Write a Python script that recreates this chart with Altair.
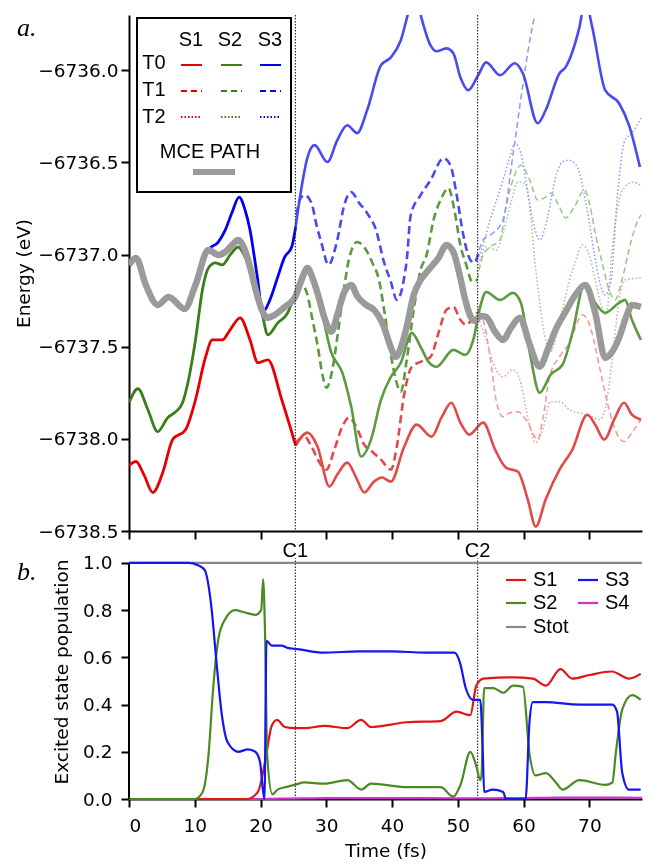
import altair as alt
import pandas as pd

# ---------------- constants ----------------
C1_T, C2_T = 25.3, 53.0
T_MAX = 78.0
E_MIN, E_MAX = -6738.5, -6735.7
P_MAX = 1.08
W = 513

# ---------------- panel a : trajectory T0 (solid) ----------------
t0_s1_t = [0.0, 1.06, 2.26, 3.62, 5.13, 6.64, 8.60, 10.11, 11.61, 12.67, 14.18, 15.38, 16.89, 18.40, 19.61,
           21.12, 23.23, 25.34, 27.15, 28.66, 30.47, 31.67, 33.18, 34.54, 35.75, 37.25, 38.46, 39.82, 41.78,
           43.74, 46.00, 47.51, 49.02, 50.38, 51.73, 53.85, 55.66, 57.32, 59.13, 60.63, 61.84, 63.35, 65.46,
           67.42, 69.68, 70.89, 72.25, 73.76, 75.26, 76.47, 77.83]
t0_s1_e = [-6738.145, -6738.123, -6738.194, -6738.291, -6738.183, -6738.004, -6737.950, -6737.788, -6737.560,
           -6737.463, -6737.463, -6737.408, -6737.343, -6737.463, -6737.587, -6737.571, -6737.788, -6738.036,
           -6737.966, -6738.042, -6738.259, -6738.194, -6738.129, -6738.210, -6738.291, -6738.232, -6738.210,
           -6738.232, -6738.048, -6737.923, -6737.988, -6737.885, -6737.804, -6737.912, -6737.977, -6737.912,
           -6738.058, -6738.156, -6738.178, -6738.329, -6738.476, -6738.329, -6738.167, -6738.058, -6737.869,
           -6737.923, -6738.004, -6737.896, -6737.804, -6737.869, -6737.896]

t0_s2_t = [0.0, 1.36, 2.87, 4.37, 5.88, 7.09, 8.14, 9.05, 10.11, 11.16, 12.07, 13.12, 14.18, 15.38, 16.59,
           17.65, 18.70, 20.21, 21.12, 22.62, 24.13, 25.34, 27.15, 28.66, 30.77, 32.43, 33.79, 35.29, 36.80,
           38.31, 39.82, 41.33, 42.99, 44.34, 45.55, 46.76, 49.32, 51.13, 52.34, 53.39, 54.30, 56.41, 58.37,
           59.58, 60.94, 62.44, 64.10, 65.91, 67.42, 69.23, 70.89, 72.40, 74.51, 75.41, 76.47, 77.83]
t0_s2_e = [-6737.804, -6737.728, -6737.842, -6737.961, -6737.885, -6737.853, -6737.804, -6737.679, -6737.463,
           -6737.192, -6737.073, -6737.045, -6737.056, -6737.002, -6736.959, -6737.013, -6737.121, -6737.316,
           -6737.436, -6737.371, -6737.316, -6737.200, -6737.067, -6737.208, -6737.533, -6737.641, -6737.826,
           -6738.096, -6738.004, -6737.788, -6737.663, -6737.587, -6737.425, -6737.501, -6737.582, -6737.609,
           -6737.517, -6737.544, -6737.463, -6737.284, -6737.203, -6737.246, -6737.208, -6737.262, -6737.533,
           -6737.750, -6737.652, -6737.598, -6737.425, -6737.165, -6737.262, -6737.316, -6737.262, -6737.246,
           -6737.354, -6737.463]

t0_s3_t = [0.0, 1.06, 2.56, 4.37, 6.03, 8.45, 10.11, 12.07, 13.57, 14.63, 15.69, 16.74, 17.65, 18.40, 19.46,
           20.36, 21.42, 22.62, 23.68, 24.74, 25.34, 26.24, 27.15, 28.21, 30.17, 31.67, 33.18, 34.69, 36.20,
           38.31, 39.82, 41.33, 42.53, 43.44, 44.34, 45.85, 46.76, 48.27, 49.32, 50.38, 51.58, 53.09, 54.30,
           56.41, 58.67, 59.88, 62.14, 63.35, 65.46, 66.36, 68.48, 69.38, 70.44, 72.40, 74.51, 76.02, 77.68]
t0_s3_e = [-6737.056, -6737.018, -6737.165, -6737.273, -6737.230, -6737.295, -6737.165, -6736.975, -6736.932,
           -6736.867, -6736.769, -6736.688, -6736.758, -6736.867, -6737.110, -6737.311, -6737.246, -6737.121,
           -6737.013, -6736.959, -6736.850, -6736.634, -6736.471, -6736.406, -6736.498, -6736.379, -6736.298,
           -6736.341, -6736.217, -6735.973, -6735.930, -6735.837, -6735.680, -6735.580, -6735.700, -6735.865,
           -6735.897, -6735.881, -6735.908, -6736.038, -6736.108, -6736.027, -6735.957, -6736.027, -6735.962,
           -6736.016, -6736.287, -6736.217, -6736.016, -6735.984, -6735.767, -6735.620, -6735.767, -6736.108,
           -6736.179, -6736.298, -6736.525]

# ---------------- trajectory T1 (dashed), spawned at C1 ----------------
t1_s1_t = [25.34, 26.70, 27.75, 28.96, 30.02, 31.22, 32.43, 33.48, 34.54, 35.75, 36.95, 38.31, 39.82, 40.72,
           41.78, 42.99, 44.34, 45.85, 47.06, 48.27, 49.32, 50.38, 51.28, 52.34, 53.09, 53.85, 54.90, 55.81,
           56.86, 57.92, 59.13, 60.63, 62.14, 62.90, 63.95, 65.46, 66.97, 68.93, 70.14, 70.89, 71.95, 73.00,
           73.91, 75.26, 76.47, 77.83]
t1_s1_e = [-6738.020, -6737.988, -6738.042, -6738.129, -6738.167, -6738.058, -6737.934, -6737.885, -6737.934,
           -6738.031, -6738.069, -6738.113, -6738.167, -6738.042, -6737.771, -6737.609, -6737.582, -6737.555,
           -6737.425, -6737.300, -6737.284, -6737.354, -6737.381, -6737.343, -6737.311, -6737.354, -6737.555,
           -6737.788, -6737.880, -6737.858, -6737.853, -6737.912, -6738.004, -6737.896, -6737.663, -6737.555,
           -6737.479, -6737.327, -6737.392, -6737.501, -6737.679, -6737.842, -6737.950, -6738.015, -6737.966,
           -6737.896]

t1_s2_t = [25.34, 26.24, 27.00, 27.90, 28.66, 29.41, 30.02, 30.92, 31.67, 32.43, 33.48, 34.69, 35.75, 36.95,
           38.01, 38.91, 39.82, 40.57, 41.33, 42.23, 43.29, 44.34, 45.25, 46.30, 47.51, 48.57, 49.47, 50.38,
           51.28, 52.19, 52.94, 53.85, 54.90, 56.41, 57.32, 58.37, 59.58, 60.94, 62.14, 63.35, 64.10, 65.46,
           66.36, 67.72, 69.23, 70.14, 70.89, 71.95, 73.00, 73.91, 74.96, 76.02, 76.92, 77.83]
t1_s2_e = [-6737.192, -6737.165, -6737.203, -6737.354, -6737.490, -6737.652, -6737.723, -6737.625, -6737.450,
           -6737.250, -6737.020, -6736.932, -6736.959, -6737.040, -6737.138, -6737.327, -6737.544, -6737.679,
           -6737.744, -6737.571, -6737.300, -6737.083, -6737.002, -6736.813, -6736.693, -6736.639, -6736.758,
           -6736.948, -6737.056, -6737.148, -6737.138, -6737.002, -6736.959, -6736.921, -6736.742, -6736.596,
           -6736.515, -6736.596, -6736.704, -6736.688, -6736.666, -6736.742, -6736.802, -6736.742, -6736.650,
           -6736.742, -6736.883, -6737.045, -6737.192, -6737.246, -6737.138, -6736.975, -6736.856, -6736.785]

t1_s3_t = [25.49, 25.94, 26.70, 27.75, 28.51, 29.26, 30.32, 31.67, 32.73, 33.79, 34.99, 36.20, 37.56, 38.76,
           39.82, 40.72, 41.78, 42.23, 42.84, 44.34, 45.85, 47.81, 48.87, 49.77, 50.83, 51.89, 52.49, 53.24,
           53.85, 55.35, 56.86, 58.37, 59.88, 60.94, 61.69, 62.59]
t1_s3_e = [-6736.785, -6736.704, -6736.677, -6736.720, -6736.840, -6736.937, -6737.056, -6736.921, -6736.731,
           -6736.661, -6736.720, -6736.775, -6736.867, -6737.040, -6737.148, -6737.246, -6737.138, -6737.029,
           -6736.785, -6736.677, -6736.596, -6736.477, -6736.515, -6736.666, -6736.894, -6737.029, -6737.045,
           -6736.975, -6736.921, -6736.883, -6736.813, -6736.461, -6736.081, -6735.837, -6735.702, -6735.540]

# ---------------- trajectory T2 (dotted), spawned at C2 ----------------
t2_s1_t = [52.94, 54.30, 55.81, 56.86, 58.37, 59.43, 60.18, 60.94, 61.84, 62.90, 64.10, 65.46, 66.97, 68.93,
           70.44, 71.49, 72.25, 73.00, 73.76, 74.51, 75.41, 77.83]
t2_s1_e = [-6737.327, -6737.463, -6737.625, -6737.663, -6737.625, -6737.679, -6737.804, -6737.934, -6738.020,
           -6737.950, -6737.798, -6737.798, -6737.842, -6737.864, -6737.880, -6737.896, -6737.858, -6737.706,
           -6737.479, -6737.246, -6737.138, -6737.127]

t2_s2_t = [52.94, 54.30, 55.81, 56.86, 58.07, 59.13, 60.18, 60.94, 61.69, 62.59, 63.35, 64.10, 65.01, 65.91,
           66.97, 67.87, 68.93, 69.98, 70.89, 71.80, 72.55, 73.45, 74.51, 75.41, 76.47, 77.83]
t2_s2_e = [-6737.094, -6736.959, -6736.975, -6736.883, -6736.720, -6736.607, -6736.612, -6736.742, -6737.029,
           -6737.300, -6737.463, -6737.528, -6737.436, -6737.300, -6737.138, -6737.040, -6736.948, -6737.002,
           -6737.138, -6737.273, -6737.327, -6736.975, -6736.704, -6736.634, -6736.607, -6736.623]

t2_s3_t = [52.94, 53.85, 54.90, 56.41, 57.92, 58.67, 59.58, 60.33, 61.39, 62.44, 63.65, 64.86, 65.91, 66.97,
           68.17, 69.38, 70.74, 71.49, 72.40, 73.30, 74.21, 75.41, 76.47, 77.83]
t2_s3_e = [-6737.029, -6736.948, -6736.813, -6736.650, -6736.471, -6736.395, -6736.450, -6736.596, -6736.813,
           -6736.921, -6736.796, -6736.580, -6736.498, -6736.488, -6736.525, -6736.704, -6736.991, -6737.138,
           -6737.219, -6737.138, -6736.704, -6736.379, -6736.341, -6736.260]

# ---------------- MCE path ----------------
mce_t = [0.0, 1.06, 2.56, 4.37, 6.03, 8.45, 10.11, 12.07, 13.57, 14.63, 15.69, 16.59, 17.50, 18.40, 19.46,
         20.21, 20.97, 22.17, 23.68, 25.19, 26.24, 27.15, 27.90, 28.66, 29.71, 30.77, 31.67, 32.73, 33.79,
         34.69, 36.05, 37.25, 38.76, 39.67, 40.57, 41.48, 42.23, 43.29, 44.34, 45.55, 47.06, 48.27, 49.32,
         50.38, 51.13, 51.89, 52.64, 53.39, 54.30, 55.66, 56.86, 58.07, 59.43, 60.94, 62.44, 63.65, 64.86,
         66.36, 67.87, 69.38, 70.89, 72.40, 73.45, 74.51, 75.71, 76.47, 77.83]
mce_e = [-6737.056, -6737.018, -6737.165, -6737.273, -6737.230, -6737.295, -6737.165, -6736.975, -6737.002,
         -6736.986, -6736.948, -6736.921, -6736.964, -6737.067, -6737.219, -6737.300, -6737.343, -6737.327,
         -6737.284, -6737.235, -6737.138, -6737.073, -6737.127, -6737.208, -6737.343, -6737.419, -6737.327,
         -6737.203, -6737.165, -6737.225, -6737.273, -6737.300, -6737.392, -6737.490, -6737.555, -6737.490,
         -6737.392, -6737.219, -6737.138, -6737.083, -6737.018, -6736.948, -6736.986, -6737.127, -6737.246,
         -6737.333, -6737.360, -6737.333, -6737.338, -6737.419, -6737.463, -6737.398, -6737.343, -6737.490,
         -6737.609, -6737.517, -6737.408, -6737.311, -6737.219, -6737.165, -6737.316, -6737.560, -6737.528,
         -6737.452, -6737.327, -6737.273, -6737.284]

# ---------------- panel b : populations ----------------
pop_s1_t = [0, 18.0, 19.6, 20.7, 21.7, 22.5, 23.7, 25.2, 26.7, 29.7, 33.2, 35.3, 36.8, 42.2, 47.4, 49.8, 51.9,
            52.8, 53.9, 58.4, 61.4, 63.4, 65.6, 67.4, 70.0, 73.4, 76.0, 77.8]
pop_s1_v = [0, 0, 0.03, 0.16, 0.31, 0.335, 0.305, 0.30, 0.30, 0.31, 0.30, 0.335, 0.305, 0.325, 0.33, 0.37, 0.355,
            0.48, 0.51, 0.515, 0.51, 0.48, 0.55, 0.51, 0.525, 0.54, 0.51, 0.53]

pop_s2_t = [0, 10.0, 11.2, 12.1, 12.8, 13.6, 14.6, 16.1, 17.6, 19.2, 20.1, 20.4, 20.7, 21.0, 21.8, 22.6, 23.7,
            25.2, 26.7, 29.7, 33.2, 35.3, 36.8, 42.2, 47.4, 49.3, 50.4, 51.9, 52.8, 53.4, 53.6, 54.0, 55.4, 56.9,
            58.4, 59.9, 60.9, 61.8, 63.4, 64.9, 65.9, 68.5, 72.4, 73.5, 74.0, 75.0, 76.5, 77.8]
pop_s2_v = [0, 0, 0.03, 0.19, 0.47, 0.68, 0.76, 0.80, 0.79, 0.78, 0.80, 0.93, 0.68, 0.19, 0.02, 0.04, 0.05,
            0.06, 0.07, 0.065, 0.08, 0.04, 0.065, 0.05, 0.05, 0.01, 0.06, 0.20, 0.14, 0.08, 0.10, 0.47, 0.47, 0.45,
            0.48, 0.475, 0.19, 0.10, 0.11, 0.07, 0.04, 0.08, 0.06, 0.07, 0.19, 0.38, 0.44, 0.42]

pop_s3_t = [0, 9.0, 10.5, 11.5, 12.5, 13.3, 14.1, 15.0, 16.6, 18.1, 19.2, 19.9, 20.4, 20.6, 20.9, 21.7, 23.2,
            24.1, 25.6, 29.6, 35.0, 40.0, 45.0, 49.5, 50.3, 51.2, 52.3, 53.4, 53.8, 54.0, 55.3, 56.9, 57.3, 60.3,
            60.9, 61.4, 63.3, 68.5, 73.5, 74.2, 75.0, 76.0, 77.8]
pop_s3_v = [1.0, 1.0, 0.99, 0.97, 0.82, 0.58, 0.36, 0.24, 0.20, 0.21, 0.20, 0.16, 0.03, 0.0, 0.67, 0.65, 0.65,
            0.64, 0.635, 0.62, 0.625, 0.625, 0.62, 0.62, 0.58, 0.47, 0.42, 0.42, 0.19, 0.03, 0.04, 0.03, 0.0, 0.0,
            0.33, 0.41, 0.41, 0.40, 0.40, 0.37, 0.11, 0.04, 0.04]

pop_s4_t = [0, 20, 25, 30, 40, 50, 55, 60, 65, 70, 78]
pop_s4_v = [0, 0.0, 0.002, 0.004, 0.004, 0.003, 0.003, 0.004, 0.006, 0.006, 0.005]

pop_tot_t = [0, 78]
pop_tot_v = [1.0, 1.0]

crossing_t = [C1_T, C2_T]
crossing_lab = ["C1", "C2"]

# ---------------- styles ----------------
RED0, GRN0, BLU0 = "#e60000", "#3b7e18", "#0000f2"
RED1, GRN1, BLU1 = "#e24a4a", "#5c9a40", "#4a4af2"
RED2, GRN2, BLU2 = "#f09898", "#9cc58c", "#9494f8"
GRAY = "#9a9a9a"
PRED, PGRN, PBLU, PMAG, PGRY = "#e01515", "#4a8a22", "#1515ee", "#cc33cc", "#888888"
SANS = "Liberation Sans"


def split(t, e, c):
    k = next(i for i, v in enumerate(t) if v >= c - 0.06)
    return (t[:k + 1], e[:k + 1]), (t[k:], e[k:])


def frame(parts):
    rows = []
    for key, (t, e), color in parts:
        for ti, ei in zip(t, e):
            rows.append({"t": ti, "E": ei, "key": key, "color": color})
    return pd.DataFrame(rows)


s1_pre, s1_post = split(t0_s1_t, t0_s1_e, C1_T)
s2_pre, s2_post = split(t0_s2_t, t0_s2_e, C1_T)
s3_pre, s3_post = split(t0_s3_t, t0_s3_e, C1_T)
d1_pre, d1_post = split(t1_s1_t, t1_s1_e, C2_T)
d2_pre, d2_post = split(t1_s2_t, t1_s2_e, C2_T)
d3_pre, d3_post = split(t1_s3_t, t1_s3_e, C2_T)

df_t0_pre = frame([("a1", s1_pre, RED0), ("a2", s2_pre, GRN0), ("a3", s3_pre, BLU0)])
df_t0_post = frame([("b1", s1_post, RED1), ("b2", s2_post, GRN1), ("b3", s3_post, BLU1)])
df_t1_pre = frame([("c1", d1_pre, RED1), ("c2", d2_pre, GRN1), ("c3", d3_pre, BLU1)])
df_t1_post = frame([("d1", d1_post, RED2), ("d2", d2_post, GRN2), ("d3", d3_post, BLU2)])
df_t2 = frame([("e1", (t2_s1_t, t2_s1_e), RED2), ("e2", (t2_s2_t, t2_s2_e), GRN2),
               ("e3", (t2_s3_t, t2_s3_e), BLU2)])
df_mce = pd.DataFrame({"t": mce_t, "E": mce_e})

X_TOP = alt.X("t:Q", scale=alt.Scale(domain=[0, T_MAX], nice=False, zero=False),
              axis=alt.Axis(values=list(range(0, 80, 10)), labels=False, title=None, tickSize=8,
                            tickWidth=2, domainWidth=2))
Y_TOP = alt.Y("E:Q", scale=alt.Scale(domain=[E_MIN, E_MAX], nice=False, zero=False),
              axis=alt.Axis(values=[-6738.5, -6738.0, -6737.5, -6737.0, -6736.5, -6736.0], format=".1f",
                            title="Energy (eV)", tickSize=8, tickWidth=2, domainWidth=2, labelPadding=3,
                            titlePadding=4))


def lines(df, width, dash=None):
    kw = dict(strokeWidth=width, clip=True, interpolate="monotone")
    if dash:
        kw["strokeDash"] = dash
    return alt.Chart(df).mark_line(**kw).encode(
        x=X_TOP, y=Y_TOP, color=alt.Color("color:N", scale=None), detail="key:N")


ONE = pd.DataFrame({"k": [0]})


def vtext(txt, x, y, size, font=SANS, align="center", baseline="middle", style="normal"):
    return alt.Chart(ONE).mark_text(text=txt, font=font, fontSize=size, align=align, baseline=baseline,
                                    fontStyle=style, color="black").encode(x=alt.value(x), y=alt.value(y))


def vrule(x1, x2, y, color, width, dash=None):
    kw = dict(color=color, strokeWidth=width)
    if dash:
        kw["strokeDash"] = dash
    return alt.Chart(ONE).mark_rule(**kw).encode(x=alt.value(x1), x2=alt.value(x2), y=alt.value(y))


# top legend (matrix of trajectories x states)
leg_top = [
    alt.Chart(ONE).mark_rect(fill="white", stroke="black", strokeWidth=2).encode(
        x=alt.value(8), x2=alt.value(162), y=alt.value(3), y2=alt.value(177)),
    vtext("S1", 62, 25, 20), vtext("S2", 101, 25, 20), vtext("S3", 141, 25, 20),
    vtext("T0", 25, 48, 20), vtext("T1", 25, 75, 20), vtext("T2", 25, 102, 20),
    vtext("MCE PATH", 81, 137, 20),
    vrule(64, 106, 157, GRAY, 6),
]
for cx, col in [(52, RED0), (92, GRN0), (131, BLU0)]:
    leg_top.append(vrule(cx, cx + 21, 50, col, 2))
    leg_top.append(vrule(cx, cx + 21, 76, col, 2, [6, 4]))
    leg_top.append(vrule(cx, cx + 21, 102, col, 2, [1.5, 2]))

rules_top = alt.Chart(pd.DataFrame({"t": crossing_t})).mark_rule(
    color="#333333", strokeDash=[1.5, 1.5], strokeWidth=1.2).encode(x=X_TOP)

mce_layer = alt.Chart(df_mce).mark_line(
    strokeWidth=6.5, clip=True, interpolate="monotone", color=GRAY, blend="multiply").encode(x=X_TOP, y=Y_TOP)

top = alt.layer(
    lines(df_t2, 1.5, [1.5, 2.2]),
    lines(df_t1_post, 1.5, [6, 3.5]),
    lines(df_t1_pre, 2.6, [8, 4.5]),
    lines(df_t0_post, 2.6),
    lines(df_t0_pre, 2.8),
    mce_layer,
    rules_top,
    *leg_top,
    vtext("a.", -112, 21, 26, font="Liberation Serif", align="left", baseline="alphabetic", style="italic"),
).properties(width=W, height=516)

# ---------------- bottom panel ----------------
pop_rows = []
for key, tt, vv, col in [("Stot", pop_tot_t, pop_tot_v, PGRY), ("S4", pop_s4_t, pop_s4_v, PMAG),
                         ("S1", pop_s1_t, pop_s1_v, PRED), ("S2", pop_s2_t, pop_s2_v, PGRN),
                         ("S3", pop_s3_t, pop_s3_v, PBLU)]:
    for a, b in zip(tt, vv):
        pop_rows.append({"t": a, "p": b, "key": key, "color": col})
df_pop = pd.DataFrame(pop_rows)

X_BOT = alt.X("t:Q", scale=alt.Scale(domain=[0, T_MAX], nice=False, zero=False),
              axis=alt.Axis(values=list(range(0, 80, 10)), title="Time (fs)", tickSize=8, tickWidth=2,
                            domainWidth=2, labelPadding=9, titlePadding=7))
Y_BOT = alt.Y("p:Q", scale=alt.Scale(domain=[0, P_MAX], nice=False, zero=False),
              axis=alt.Axis(values=[0.0, 0.2, 0.4, 0.6, 0.8, 1.0], format=".1f", domain=False,
                            title="Excited state population", tickSize=8, tickWidth=2, labelPadding=9,
                            titlePadding=11))

pop_lines = alt.Chart(df_pop).mark_line(strokeWidth=2.2, interpolate="monotone").encode(
    x=X_BOT, y=Y_BOT, color=alt.Color("color:N", scale=None), detail="key:N")

yaxis_line = alt.Chart(pd.DataFrame({"t": [0], "p": [0.0], "p2": [1.0]})).mark_rule(
    color="black", strokeWidth=2).encode(x=X_BOT, y=Y_BOT, y2="p2:Q")

rules_bot = alt.Chart(pd.DataFrame({"t": crossing_t, "p": [0, 0], "p2": [1.02, 1.02]})).mark_rule(
    color="#333333", strokeDash=[1.5, 1.5], strokeWidth=1.2).encode(x=X_BOT, y=Y_BOT, y2="p2:Q")

c_labels = alt.Chart(pd.DataFrame({"t": crossing_t, "p": [1.05, 1.05], "lab": crossing_lab})).mark_text(
    font=SANS, fontSize=20, baseline="middle", color="black").encode(x=X_BOT, y=Y_BOT, text="lab:N")

leg_bot = [
    vrule(377, 397, 36, PRED, 2.2), vtext("S1", 404, 36, 20, align="left"),
    vrule(449, 469, 36, PBLU, 2.2), vtext("S3", 476, 36, 20, align="left"),
    vrule(377, 397, 59, PGRN, 2.2), vtext("S2", 404, 59, 20, align="left"),
    vrule(449, 469, 59, PMAG, 2.2), vtext("S4", 476, 59, 20, align="left"),
    vrule(377, 397, 83, PGRY, 2.2), vtext("Stot", 404, 83, 20, align="left"),
]

bottom = alt.layer(
    rules_bot, pop_lines, yaxis_line, c_labels, *leg_bot,
    vtext("b.", -112, 36, 26, font="Liberation Serif", align="left", baseline="alphabetic", style="italic"),
).properties(width=W, height=255)

chart = alt.vconcat(top, bottom, spacing=0).properties(
    padding={"left": 14, "top": 14, "right": 0, "bottom": 0}
).configure(background="white").configure_view(stroke=None).configure_axis(
    grid=False, domainColor="black", tickColor="black", labelColor="black", titleColor="black",
    labelFont="DejaVu Sans", titleFont="DejaVu Sans", labelFontSize=18.5, titleFontSize=18.5,
    titleFontWeight="normal")

chart.save("out.html", embed_options={"renderer": "svg", "actions": False})
